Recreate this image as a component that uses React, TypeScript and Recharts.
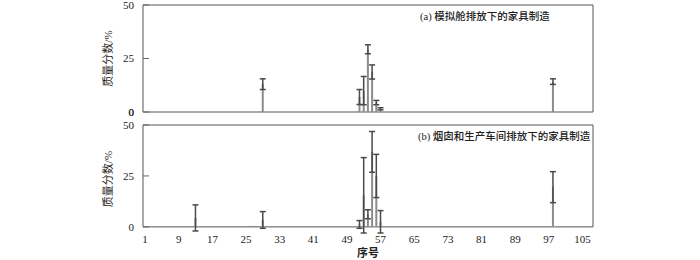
import React from "react";
import {
  BarChart,
  Bar,
  XAxis,
  YAxis,
  ErrorBar,
  ReferenceArea,
  ReferenceLine,
} from "recharts";

// 序号 of each non-zero compound, value (质量分数 %) and ± error
const IDX_A = [29, 52, 53, 54, 55, 56, 57, 98];
const VAL_A = [13, 7, 10, 29.3, 18.7, 4.4, 1.5, 14.2];
const ERR_A = [2.5, 3.5, 6.6, 2.1, 3.3, 1, 0.5, 1.3];

const IDX_B = [1, 13, 17, 26, 27, 29, 52, 53, 54, 55, 56, 57, 98];
const VAL_B = [0.2, 4.4, 0.2, 0.5, 0.5, 3.4, 1.2, 15.5, 6.2, 36.8, 25, 2.5, 19.5];
const ERR_B = [0, 6.4, 0, 0, 0, 4.1, 1.9, 18.5, 2.2, 10, 10.6, 5.5, 7.6];

const X_TICKS = [1, 9, 17, 25, 33, 41, 49, 57, 65, 73, 81, 89, 97, 105];
const Y_TICKS = [0, 25, 50];

const TITLE_A = "(a) 模拟舱排放下的家具制造";
const TITLE_B = "(b) 烟囱和生产车间排放下的家具制造";

const FONT = "'Liberation Serif', 'Noto Sans CJK SC', serif";
const TEXT = "#222";

const build = (idx: number[], val: number[], err: number[]) =>
  idx.map((n, i) => ({ n, v: val[i], e: err[i] }));

interface PanelProps {
  data: Array<{ n: number; v: number; e: number }>;
  top: number;
  height: number;
  margin: { top: number; right: number; bottom: number; left: number };
  yMin: number; // lowest error-bar end, the scale has to reach it
  showX: boolean;
}

const Panel: React.FC<PanelProps> = ({ data, top, height, margin, yMin, showX }) => (
  <div style={{ position: "absolute", left: 0, top }}>
    <BarChart width={700} height={height} data={data} margin={margin}>
      <XAxis
        type="number"
        dataKey="n"
        domain={[0.5, 107.5]}
        ticks={X_TICKS}
        interval={0}
        hide={!showX}
        height={27}
        axisLine={false}
        tickLine={false}
        tickSize={0}
        tickMargin={2}
        tick={{ fontSize: 11, fill: TEXT, fontFamily: FONT }}
        label={
          showX
            ? {
                value: "序号",
                position: "insideBottom",
                offset: 3,
                style: { fontSize: 11, fill: TEXT, fontFamily: FONT, fontWeight: 600 },
              }
            : undefined
        }
      />
      <YAxis
        type="number"
        domain={[yMin, 50]}
        allowDataOverflow
        ticks={Y_TICKS}
        interval={0}
        width={40}
        axisLine={false}
        tickSize={-6}
        tickMargin={15}
        tickLine={{ stroke: "#666" }}
        tick={{ fontSize: 11, fill: TEXT, fontFamily: FONT }}
        label={{
          value: "质量分数/%",
          angle: -90,
          position: "insideLeft",
          offset: 5,
          style: { textAnchor: "middle", fontSize: 11, fill: TEXT, fontFamily: FONT },
        }}
      />
      <ReferenceArea
        x1={0.5}
        x2={107.5}
        y1={0}
        y2={50}
        fill="none"
        stroke="#555"
        strokeWidth={1}
      />
      {/* the axis drops its own "0" when 0 is the bottom of the scale */}
      {yMin === 0 && (
        <ReferenceLine
          y={0}
          stroke="none"
          label={{
            value: "0",
            position: "left",
            offset: 9,
            style: { fontSize: 11, fill: TEXT, fontFamily: FONT },
          }}
        />
      )}
      <Bar dataKey="v" fill="#8c8c8c" barSize={2} isAnimationActive={false}>
        <ErrorBar
          dataKey="e"
          direction="y"
          width={3}
          stroke="#4a4a4a"
          strokeWidth={1.5}
          isAnimationActive={false}
        />
      </Bar>
    </BarChart>
  </div>
);

const titleStyle: React.CSSProperties = {
  position: "absolute",
  fontFamily: FONT,
  fontSize: 10.5,
  fontWeight: 500,
  color: TEXT,
  whiteSpace: "nowrap",
  lineHeight: "12px",
};

export default function App() {
  return (
    <div
      style={{
        position: "absolute",
        left: 0,
        top: 0,
        width: 700,
        height: 260,
        background: "#fff",
        overflow: "hidden",
      }}
    >
      <Panel
        data={build(IDX_B, VAL_B, ERR_B)}
        top={120}
        height={140}
        margin={{ top: 5, right: 107, bottom: 0, left: 103 }}
        yMin={-3}
        showX={true}
      />
      <Panel
        data={build(IDX_A, VAL_A, ERR_A)}
        top={0}
        height={135}
        margin={{ top: 5, right: 107, bottom: 23, left: 103 }}
        yMin={0}
        showX={false}
      />
      <div style={{ ...titleStyle, left: 420, top: 11 }}>{TITLE_A}</div>
      <div style={{ ...titleStyle, left: 418, top: 131 }}>{TITLE_B}</div>
    </div>
  );
}
